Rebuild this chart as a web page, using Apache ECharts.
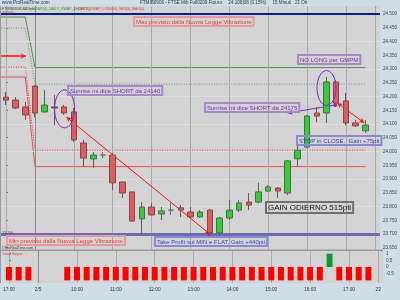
<!DOCTYPE html>
<html><head><meta charset="utf-8">
<script src="https://cdn.jsdelivr.net/npm/echarts@6/dist/echarts.min.js"></script>
<style>html,body{margin:0;padding:0;background:#cfdde7;}#c{width:400px;height:300px;}</style>
</head><body><div id="c"></div>
<script>
// ---------- data ----------
const categories = ['17:00','17:15','17:30',
 '09:00','09:15','09:30','09:45','10:00','10:15','10:30','10:45','11:00','11:15','11:30','11:45',
 '12:00','12:15','12:30','12:45','13:00','13:15','13:30','13:45','14:00','14:15','14:30','14:45',
 '15:00','15:15','15:30','15:45','16:00','16:15','16:30','16:45','17:00','17:15','17:30','next'];
const tickIdx  = [0,3,7,11,15,19,23,27,31,35,38];
const tickText = ['17:00','2/5','10:00','11:00','12:00','13:00','14:00','15:00','16:00','17:00','22'];

const opens  = [24198,24187,24162,24238,24144,24162,24162,24144,24031,23973,23987,23987,23889,23853,23755,23798,23773,23787,23795,23780,23762,23787,23704,23758,23787,23816,23816,23856,23867,23849,23973,24016,24140,24140,24253,24184,24104,24075];
const closes = [24187,24158,24133,24140,24169,24158,24140,24042,23976,23987,23987,23886,23849,23747,23798,23769,23784,23787,23787,23762,23780,23704,23758,23787,23813,23805,23853,23871,23856,23966,24005,24129,24129,24253,24176,24104,24093,24096];
const lows   = [24169,24155,24115,24125,24142,24096,24133,24035,23944,23940,23976,23860,23831,23744,23704,23769,23751,23769,23762,23758,23758,23686,23686,23751,23780,23787,23813,23853,23831,23842,23944,24012,24107,24104,24169,24096,24089,24067];
const highs  = [24216,24198,24180,24242,24224,24205,24169,24158,24042,23998,23998,23995,23889,23853,23816,23813,23798,23813,23805,23798,23787,23790,23762,23824,23824,23849,23886,23878,23871,23969,24024,24133,24162,24271,24260,24213,24115,24115];

const signal = [-1,-1,-1,null,null,null,-1,-1,-1,-1,-1,-1,-1,-1,-1,-1,-1,-1,-1,-1,-1,-1,-1,-1,-1,-1,-1,-1,-1,-1,-1,-1,-1,1,-1,-1,-1,-1,null];

const priceTicks  = [23650,23700,23750,23800,23850,23900,23950,24000,24050,24100,24150,24200,24250,24300,24350,24400,24450,24500];
const gridPrices  = [23800,23900,24000,24100,24200,24300,24400];
const signalTicks = [-0.5,0,0.5,1];
const maxLevel = 24500, minLevel = 23700;

const levelBefore = [24489,24449,24271,24307];   // green solid, green dotted, red solid, red dotted
const levelAfter  = [24305,24245,23945,24005];
const levelShiftIdx = 3, levelEndIdx = 37;

const arrowShort1 = [[6.24,24125],[20.85,23704]];
const arrowShort2 = [[33.9,24169],[29.0,24140]];
const arrowStop   = [[34.13,24176],[36.89,24104]];
const arrowLeft   = [[-0.5,24347],[2.05,24347]];
const ellipse1 = [6.04,24155], ellipse2 = [33.0,24231];
const lastClose = closes[closes.length-1];
const lastSignal = -1;

// ---------- chart ----------
const fmt = v => (v/1000).toFixed(3);
const FONT = '"Liberation Sans", Arial, sans-serif';
const chart = echarts.init(document.getElementById('c'), null, {renderer:'canvas'});
const candles = opens.map((o,i)=>[o,closes[i],lows[i],highs[i]]);
const isTick = i => tickIdx.indexOf(i) >= 0;

const levelStyles = [
  {color:'#4f944f', type:'solid', width:1},
  {color:'#5f9a5f', type:[1,1.5], width:1},
  {color:'#f05050', type:'solid', width:1},
  {color:'#f03030', type:[1,1.5], width:1}
];
const levelSeries = levelBefore.map((b,k)=>({
  type:'line', xAxisIndex:2, yAxisIndex:0, z:3, silent:true, symbol:'none',
  lineStyle: levelStyles[k],
  data: [[-0.5,b],[levelShiftIdx-1,b],[levelShiftIdx,levelAfter[k]],[levelEndIdx,levelAfter[k]]]
}));

function arrowSeries(pts, color, syms, width){
  return {type:'line', xAxisIndex:2, yAxisIndex:0, z:10, data:[], silent:true,
    markLine:{silent:true, symbol:syms, symbolSize:[4,5], animation:false,
      lineStyle:{color:color, width:width||1, type:'solid'}, label:{show:false},
      data:[[{coord:pts[0]},{coord:pts[1]}]]}};
}

function boxLabel(v, txt, color, bg, border){
  return {yAxis:v, lineStyle:{opacity:0}, label:{show:true, position:'end', distance:2,
    formatter:txt, color:color, fontSize:4.6, fontFamily:FONT, backgroundColor:bg,
    borderColor:border, borderWidth:0.6, padding:[1,1,0,1]}};
}

const option = {
  animation:false,
  backgroundColor:'#cfdde7',
  grid:[
    {left:1, right:17, top:6, height:243.5, show:true, backgroundColor:'#d3d3d3', borderWidth:0},
    {left:1, right:17, top:251, height:32, show:true, backgroundColor:'#d3d3d3', borderWidth:0}
  ],
  xAxis:[
    {type:'category', gridIndex:0, data:categories, show:false},
    {type:'category', gridIndex:1, data:categories,
      axisLine:{show:false},
      axisTick:{show:true, interval:(i)=>isTick(i), alignWithLabel:true, length:2, lineStyle:{color:'#555'}},
      axisLabel:{interval:(i)=>isTick(i), formatter:(v,i)=>tickText[tickIdx.indexOf(i)],
        fontSize:4.8, color:'#333', margin:4, fontFamily:FONT},
      splitLine:{show:false}},
    {type:'value', gridIndex:0, min:-0.5, max:38.5, show:false, splitLine:{show:false}},
    {type:'value', gridIndex:1, min:-0.5, max:38.5, show:false, splitLine:{show:false}}
  ],
  yAxis:[
    {type:'value', gridIndex:0, position:'right', min:23643.6, max:24529.1, scale:true,
      axisLine:{show:true, lineStyle:{color:'#8a9aa8'}},
      axisTick:{show:true, customValues:priceTicks, length:2, lineStyle:{color:'#555'}},
      axisLabel:{customValues:priceTicks, formatter:fmt, fontSize:4.6, color:'#444', margin:3, fontFamily:FONT},
      splitLine:{show:false}},
    {type:'value', gridIndex:1, position:'right', min:-1.2, max:1.2,
      axisLine:{show:true, lineStyle:{color:'#8a9aa8'}},
      axisTick:{show:true, customValues:signalTicks, length:2, lineStyle:{color:'#555'}},
      axisLabel:{customValues:signalTicks, fontSize:4.6, color:'#444', margin:3, fontFamily:FONT},
      splitLine:{show:false}}
  ],
  series:[
    {type:'line', xAxisIndex:2, yAxisIndex:0, data:[], z:1, silent:true,
      markLine:{silent:true, symbol:'none', animation:false, label:{show:false},
        data: gridPrices.map(v=>({yAxis:v, lineStyle:{color:'#dedede', width:1, type:'solid'}}))
          .concat(tickIdx.map(i=>({xAxis:i, lineStyle:{color:i===3?'#8c8c8c':'#a9a9a9', width:1, type:'solid'}})))
          .concat([{yAxis:maxLevel, lineStyle:{color:'#0b1c8f', width:2, type:'solid'}},
                   {yAxis:minLevel, lineStyle:{color:'#6c6cb6', width:3, type:'solid'}}])}},
    {type:'line', xAxisIndex:3, yAxisIndex:1, data:[], z:1, silent:true,
      markLine:{silent:true, symbol:'none', animation:false, label:{show:false},
        data: tickIdx.map(i=>({xAxis:i, lineStyle:{color:i===3?'#8c8c8c':'#a9a9a9', width:1, type:'solid'}}))}},
    ...levelSeries,
    {type:'candlestick', xAxisIndex:0, yAxisIndex:0, z:5, barWidth:6, data:candles,
      itemStyle:{color:'#37cc37', color0:'#e05c5c', borderColor:'#4d6a4d', borderColor0:'#7c4c4c', borderColorDoji:'#6e6e6e', borderWidth:1}},
    {type:'bar', xAxisIndex:1, yAxisIndex:1, z:5, barWidth:6, data:signal,
      itemStyle:{color:(p)=>p.value>0?'#109a2c':'#ff0000', borderColor:'#6a6a6a', borderWidth:0}},
    {type:'line', xAxisIndex:2, yAxisIndex:0, data:[], z:12, silent:true,
      markLine:{silent:true, symbol:'none', animation:false,
        data:[
          boxLabel(levelAfter[0], fmt(levelAfter[0]), '#555', '#d6d6d6', '#909090'),
          boxLabel(levelAfter[1], fmt(levelAfter[1]), '#555', '#d6d6d6', '#909090'),
          boxLabel(lastClose, fmt(lastClose), '#333', '#f2c418', '#b09020'),
          boxLabel(levelAfter[3], fmt(levelAfter[3]), '#d04040', '#d6d6d6', '#909090'),
          boxLabel(levelAfter[2], fmt(levelAfter[2]), '#d04040', '#d6d6d6', '#909090')
        ]}},
    {type:'line', xAxisIndex:3, yAxisIndex:1, data:[], z:12, silent:true,
      markLine:{silent:true, symbol:'none', animation:false,
        data:[boxLabel(lastSignal, String(lastSignal), '#d03030', '#d6d6d6', '#909090')]}},
    arrowSeries(arrowShort1, '#ff1010', ['arrow','rect']),
    arrowSeries(arrowShort2, '#7a2cc8', ['circle','arrow']),
    arrowSeries(arrowStop, '#ff1010', ['arrow','arrow']),
    arrowSeries(arrowLeft, '#ff1010', ['none','arrow'], 1.5)
  ]
};
chart.setOption(option);

// ---------- annotations ----------
const annSeries = 2;
const p1 = chart.convertToPixel({seriesIndex:annSeries}, ellipse1);
const p2 = chart.convertToPixel({seriesIndex:annSeries}, ellipse2);
function box(x,y,text,color,border,size){
  return {type:'text', x:x, y:y, z:50, silent:true,
    style:{text:text, fill:color, font:(size||6)+'px '+FONT, backgroundColor:'rgba(0,0,0,0)',
      borderColor:border, borderWidth:1, padding:[2,2,1,2]}};
}
function tiny(x,y,text,color,size){
  return {type:'text', x:x, y:y, z:50, silent:true, style:{text:text, fill:color, font:(size||3.6)+'px '+FONT}};
}
chart.setOption({graphic:[
  {type:'rect', z:40, silent:true, shape:{x:0,y:249.5,width:383,height:1.5}, style:{fill:'#9a9a9a'}},
  {type:'rect', z:40, silent:true, shape:{x:0,y:6,width:1,height:277}, style:{fill:'#9a9a9a'}},
  {type:'ellipse', z:45, silent:true, shape:{cx:p1[0], cy:p1[1], rx:10, ry:19}, style:{fill:'none', stroke:'#7a22d0', lineWidth:1}},
  {type:'ellipse', z:45, silent:true, shape:{cx:p2[0], cy:p2[1], rx:9.5, ry:17.5}, style:{fill:'none', stroke:'#7a22d0', lineWidth:1}},
  tiny(2,0.5,'www.ProRealTime.com','#2a3a5a',4.6),
  tiny(140,0.5,'FTMIB0906 - FTSE Mib Full0209 Futuro     24.100|08 (0.15%)     15 Minuti   21 Ott','#2a3a4a',4.6),
  tiny(2,6.5,'FTMIB0906 - 15 min','#444'),
  tiny(20,6.5,'DAILY_VWAP(0)_DAILY_VWAP_SHORT(0)','#3a9a3a'),
  tiny(78,6.5,'DAILY_VWAP_LONG(0)_MIN(0)_MAX(0)','#e04040'),
  tiny(2,10.5,'24.500','#444'),
  tiny(2,230.5,'23.700','#444'),
  tiny(2,246,'©ProRealTime.com','#444'),
  tiny(2,252,'Vwap Segno','#e04040'),
  box(134,17,'Max previsto dalla Nuova Legge Vibrazione','#f03a3a','#e89a9a'),
  box(298,55,'NO LONG per GMPM','#7030b0','#a888c8'),
  box(68,86,'Sunrise mi dice SHORT da 24140','#6a30b8','#a888c8'),
  box(205,103,'Sunrise mi dice SHORT da 24175','#6a30b8','#a888c8'),
  box(297,136,'STOP in CLOSE.  Gain +75pti','#3a3ac8','#8a8ad0'),
  box(266,202,'GAIN ODIERNO 515pti','#111','#707070',8),
  box(7,236,'Min previsto dalla Nuova Legge Vibrazione','#f03a3a','#e89a9a'),
  box(155,237,'Take Profit sul MIN e FLAT. Gain +440pti','#4040c8','#8a8ad0')
]});
</script></body></html>
